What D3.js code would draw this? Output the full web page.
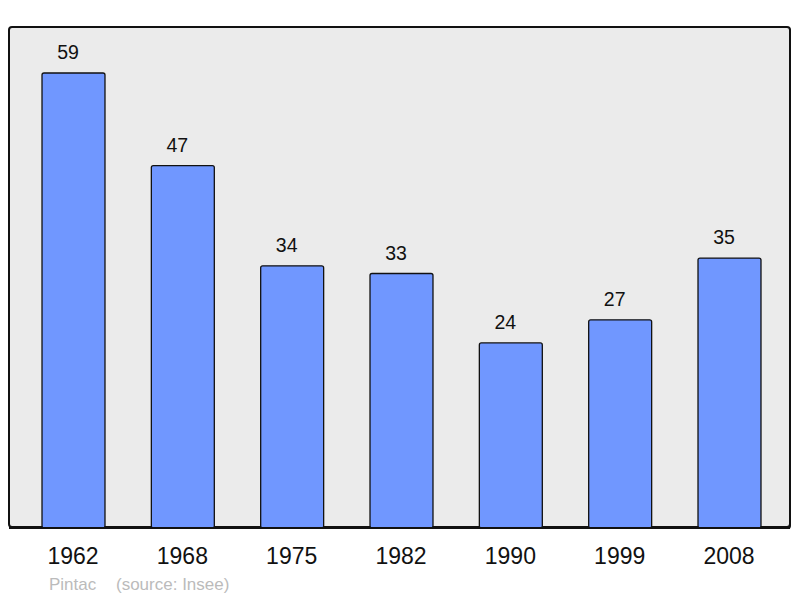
<!DOCTYPE html>
<html><head><meta charset="utf-8">
<script src="https://cdn.jsdelivr.net/npm/d3@7"></script>
<style>body{margin:0;background:#fff}svg{display:block}</style>
</head><body>
<script>
const years = ["1962","1968","1975","1982","1990","1999","2008"];
const population = [59,47,34,33,24,27,35];
const credit = ["Pintac","(source: Insee)"];

const W=800,H=598;
const svg=d3.select("body").append("svg").attr("width",W).attr("height",H);
const font="'Liberation Sans', Arial, sans-serif";

// panel
svg.append("rect").attr("x",10).attr("y",28).attr("width",781).attr("height",501)
  .attr("rx",3).attr("fill","#2a2a2a");
svg.append("rect").attr("x",9).attr("y",27).attr("width",781).attr("height",500)
  .attr("rx",3).attr("fill","#ebebeb").attr("stroke","#111").attr("stroke-width",2);

const x=d3.scalePoint().domain(years).range([73.5,729.5]);
const bw=x.step()*0.576;
const y=d3.scaleLinear().domain([0,59]).range([528,73]);

const g=svg.append("g");
g.selectAll("rect.bar").data(years).join("rect").attr("class","bar")
  .attr("x",d=>x(d)-bw/2).attr("width",bw)
  .attr("y",(d,i)=>y(population[i])).attr("height",(d,i)=>y(0)-y(population[i]))
  .attr("rx",2).attr("fill","#7097ff").attr("stroke","#111").attr("stroke-width",1.3);

g.selectAll("text.val").data(years).join("text").attr("class","val")
  .attr("x",d=>x(d)-5.5).attr("y",(d,i)=>y(population[i])-14)
  .attr("text-anchor","middle").attr("font-family",font).attr("font-size",19.5)
  .attr("fill","#111").text((d,i)=>population[i]);

// baseline axis line
svg.append("line").attr("x1",9).attr("x2",790).attr("y1",y(0)).attr("y2",y(0))
  .attr("stroke","#111").attr("stroke-width",2);

const ax=d3.axisBottom(x).tickSize(0).tickPadding(0);
const axg=svg.append("g").attr("transform","translate(-1,564)").call(ax);
axg.select(".domain").remove();
axg.selectAll("text").attr("dy",0).attr("font-family",font).attr("font-size",23).attr("fill","#111");

svg.append("text").attr("x",49).attr("y",590).attr("font-family",font).attr("font-size",17)
  .attr("fill","#bbbbbb").text(credit[0]);
svg.append("text").attr("x",116).attr("y",590).attr("font-family",font).attr("font-size",17)
  .attr("fill","#bbbbbb").text(credit[1]);
</script>
</body></html>
